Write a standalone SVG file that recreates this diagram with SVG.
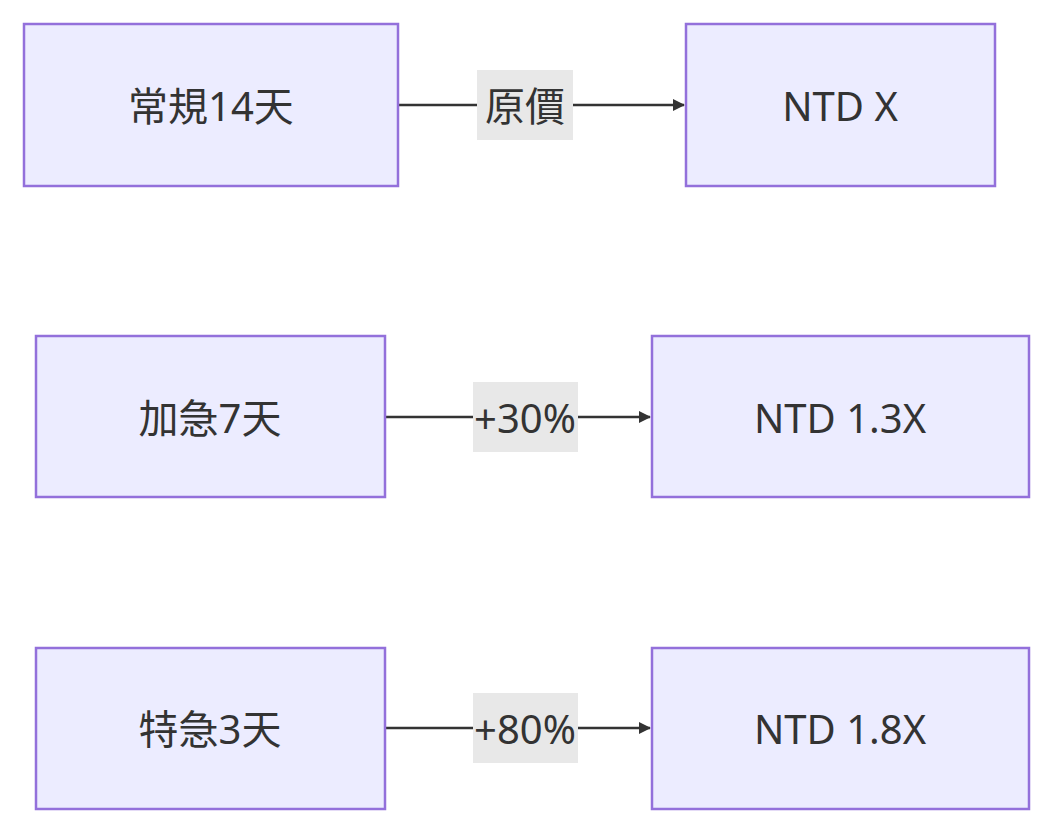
<svg xmlns="http://www.w3.org/2000/svg" width="1053" height="834" viewBox="0 0 1053 834">
<style>
.n{fill:#ECECFF;stroke:#9370DB;stroke-width:2.5}
.t{font-family:"Noto Sans","Noto Sans CJK TC",sans-serif;font-size:40px;fill:#333;text-anchor:middle;dominant-baseline:central}
.e{stroke:#333;stroke-width:2.5;fill:none}
.lb{fill:#E8E8E8}
</style>
<defs><marker id="a" markerWidth="12" markerHeight="12" refX="11" refY="6" orient="auto" markerUnits="userSpaceOnUse" viewBox="0 0 12 12"><path d="M0,0L12,6L0,12z" fill="#333"/></marker></defs>
<rect width="1053" height="834" fill="#fff"/>
<g id="connectors">
<path class="e" d="M398,105H684" marker-end="url(#a)"/>
<path class="e" d="M385,417H650" marker-end="url(#a)"/>
<path class="e" d="M385,728H650" marker-end="url(#a)"/>
<rect class="lb" x="477" y="70" width="96" height="70"/><text class="t" x="525" y="105">原價</text>
<rect class="lb" x="473" y="382" width="105" height="70"/><text class="t" x="525" y="417">+30%</text>
<rect class="lb" x="473" y="693" width="105" height="70"/><text class="t" x="525" y="728">+80%</text>
</g>
<g id="n1"><rect class="n" x="24" y="24" width="374" height="162"/><text class="t" x="211" y="105">常規14天</text></g>
<g id="n2"><rect class="n" x="686" y="24" width="309" height="162"/><text class="t" x="840" y="105">NTD X</text></g>
<g id="n3"><rect class="n" x="36" y="336" width="349" height="161"/><text class="t" x="210" y="417">加急7天</text></g>
<g id="n4"><rect class="n" x="652" y="336" width="377" height="161"/><text class="t" x="840" y="417">NTD 1.3X</text></g>
<g id="n5"><rect class="n" x="36" y="648" width="349" height="161"/><text class="t" x="210" y="728">特急3天</text></g>
<g id="n6"><rect class="n" x="652" y="648" width="377" height="161"/><text class="t" x="840" y="728">NTD 1.8X</text></g>
</svg>
